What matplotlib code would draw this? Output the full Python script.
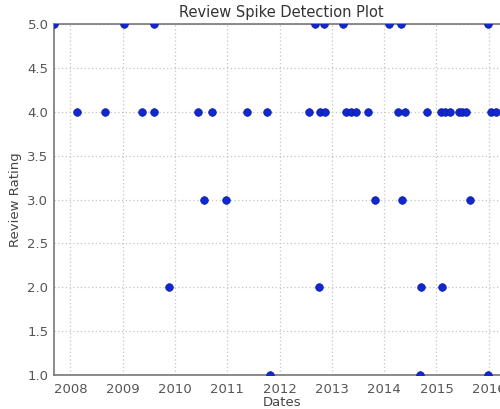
import matplotlib
matplotlib.use("Agg")
import matplotlib.pyplot as plt
import matplotlib.dates as mdates
import pandas as pd

dates_5 = ['2007-09-08', '2009-01-08', '2009-08-07', '2012-09-02', '2012-11-03',
           '2013-03-21', '2014-02-06', '2014-05-01', '2015-12-24']
dates_4 = ['2008-02-17', '2008-08-28', '2009-05-12', '2009-08-04', '2010-06-10',
           '2010-09-13', '2011-05-19', '2011-10-08', '2012-07-24', '2012-10-08',
           '2012-11-10', '2013-04-09', '2013-05-12', '2013-06-18', '2013-09-09',
           '2014-04-09', '2014-05-23', '2014-10-27', '2015-01-30', '2015-02-28',
           '2015-04-02', '2015-06-07', '2015-06-29', '2015-07-24', '2016-01-15',
           '2016-02-24']
dates_3 = ['2010-07-24', '2010-12-20', '2013-10-30', '2014-05-05', '2015-08-22']
dates_2 = ['2009-11-21', '2012-10-05', '2014-09-13', '2015-02-10']
dates_1 = ['2011-10-27', '2014-09-06', '2015-12-28']

dates = dates_5 + dates_4 + dates_3 + dates_2 + dates_1
ratings = ([5.0] * len(dates_5) + [4.0] * len(dates_4) + [3.0] * len(dates_3)
           + [2.0] * len(dates_2) + [1.0] * len(dates_1))

x = pd.to_datetime(dates)

fig = plt.figure(figsize=(5.0, 4.09), dpi=100)
ax = fig.add_axes([0.108, 0.083, 0.911, 0.858])
ax.plot(x, ratings, 'o', color='#1028d0', markersize=5.5, markeredgewidth=0.5,
        markeredgecolor='#0a1aa0', zorder=3)

ax.set_xlim(pd.Timestamp('2007-09-08'), pd.Timestamp('2016-05-25'))
ax.set_ylim(1.0, 5.0)
ax.set_yticks([1.0, 1.5, 2.0, 2.5, 3.0, 3.5, 4.0, 4.5, 5.0])
ax.yaxis.set_major_formatter(matplotlib.ticker.FormatStrFormatter('%.1f'))
ax.xaxis.set_major_locator(mdates.YearLocator())
ax.xaxis.set_major_formatter(mdates.DateFormatter('%Y'))

ax.grid(True, linestyle=(0, (1, 2)), color='#c4c4c4', linewidth=0.9)
for s in ax.spines.values():
    s.set_color('#777777')
    s.set_linewidth(1.2)
ax.tick_params(colors='#555555', labelsize=9.5, length=0)
ax.tick_params(axis='y', pad=4)
ax.tick_params(axis='x', pad=6)

ax.set_title('Review Spike Detection Plot', color='#333333', fontsize=10.5, pad=5)
ax.set_xlabel('Dates', color='#444444', fontsize=9.5, labelpad=0)
ax.set_ylabel('Review Rating', color='#444444', fontsize=9.5, labelpad=4)

fig.savefig('out.png', dpi=100)
